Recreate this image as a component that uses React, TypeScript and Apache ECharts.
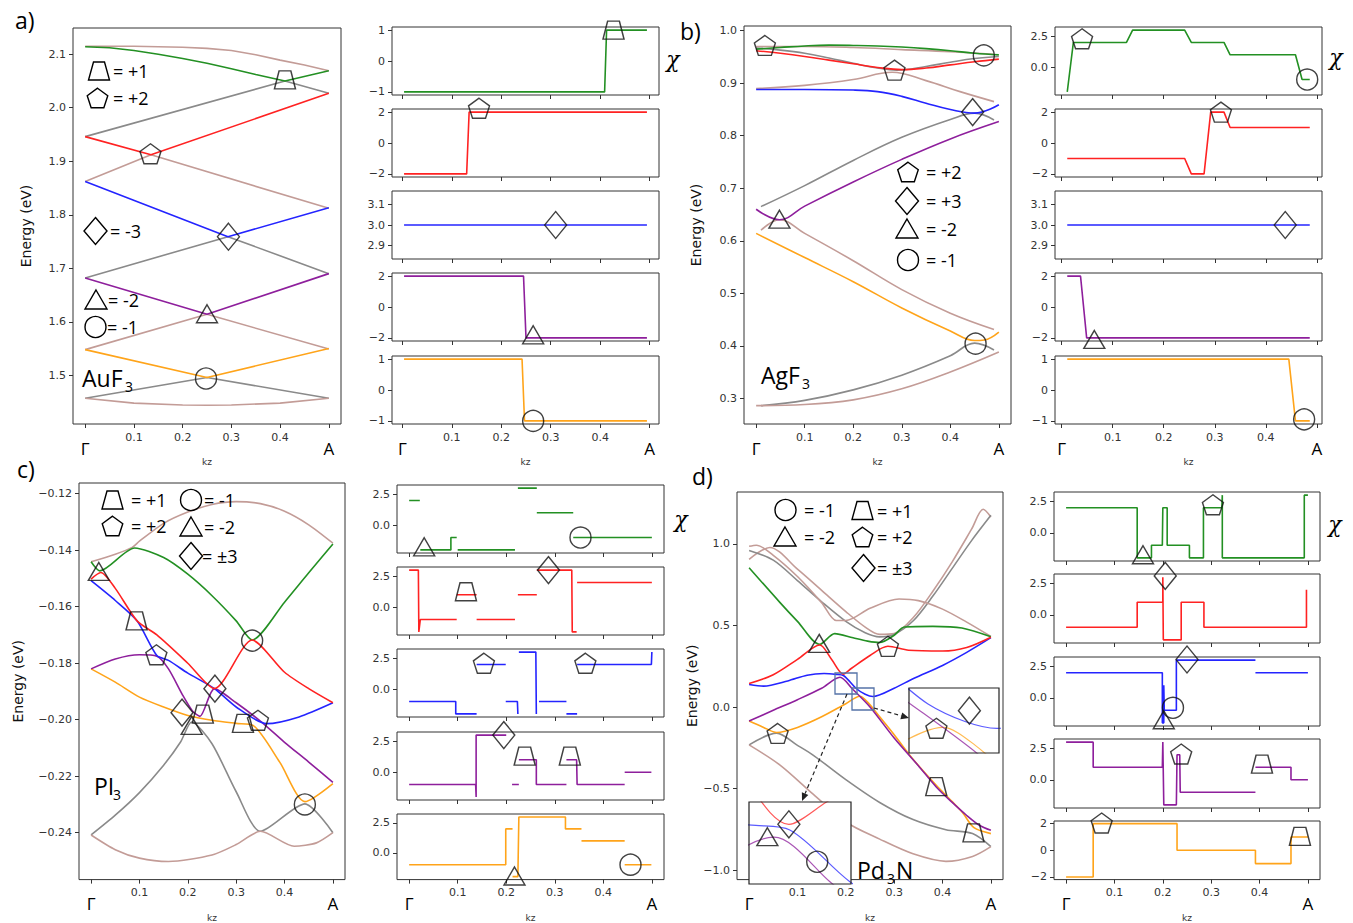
import React, { useEffect, useRef } from 'react';
import * as echarts from 'echarts';

// ================= DATA =================
const KZ_TICKS = [0, 0.1, 0.2, 0.3, 0.4, 0.5];

// ---- Panel a : AuF3 bands [kz, E(eV)]
const A_Y_TICKS = [1.5, 1.6, 1.7, 1.8, 1.9, 2.0, 2.1];
const A_BROWN1 = [[0, 2.115], [0.1, 2.115], [0.2, 2.113], [0.25, 2.111], [0.3, 2.107], [0.35, 2.099], [0.4, 2.089], [0.45, 2.08], [0.5, 2.069]];
const A_GREEN = [[0, 2.114], [0.05, 2.112], [0.1, 2.107], [0.15, 2.1], [0.2, 2.092], [0.25, 2.083], [0.3, 2.073], [0.35, 2.062], [0.41, 2.05], [0.5, 2.069]];
const A_GRAY1 = [[0, 1.946], [0.41, 2.05], [0.5, 2.027]];
const A_RED = [[0, 1.946], [0.135, 1.912], [0.5, 2.027]];
const A_BROWN2 = [[0, 1.862], [0.135, 1.912], [0.5, 1.812]];
const A_BLUE = [[0, 1.862], [0.293, 1.759], [0.5, 1.813]];
const A_GRAY2 = [[0, 1.682], [0.293, 1.759], [0.5, 1.69]];
const A_PURPLE = [[0, 1.682], [0.25, 1.614], [0.5, 1.69]];
const A_BROWN3 = [[0, 1.548], [0.25, 1.614], [0.5, 1.549]];
const A_ORANGE = [[0, 1.548], [0.25, 1.496], [0.5, 1.55]];
const A_GRAY3 = [[0, 1.457], [0.25, 1.496], [0.5, 1.457]];
const A_BROWN4 = [[0, 1.457], [0.1, 1.448], [0.2, 1.4445], [0.25, 1.444], [0.3, 1.4445], [0.4, 1.448], [0.5, 1.457]];
const A_MARKS = [[0.41, 2.052, 'trap'], [0.134, 1.914, 'pent'], [0.294, 1.759, 'diam'], [0.25, 1.615, 'tri'], [0.248, 1.494, 'circ']];
// chirality a
const A_CHI_GREEN = [[0.0034, -1], [0.409, -1], [0.413, 1], [0.4946, 1]];
const A_CHI_RED = [[0.0034, -2], [0.13, -2], [0.135, 2], [0.4946, 2]];
const A_CHI_BLUE = [[0.0034, 3], [0.4946, 3]];
const A_CHI_PURPLE = [[0.0034, 2], [0.245, 2], [0.25, -2], [0.4946, -2]];
const A_CHI_ORANGE = [[0.0034, 1], [0.242, 1], [0.247, -1], [0.4946, -1]];
const A_CHI_GREEN_M = [[0.427, 1.0, 'trap']];
const A_CHI_RED_M = [[0.155, 2.25, 'pent']];
const A_CHI_BLUE_M = [[0.31, 3.0, 'diam']];
const A_CHI_PURPLE_M = [[0.2645, -1.8, 'tri']];
const A_CHI_ORANGE_M = [[0.2645, -1.0, 'circ']];

// ---- Panel b : AgF3
const B_Y_TICKS = [0.3, 0.4, 0.5, 0.6, 0.7, 0.8, 0.9, 1.0];
const B_BROWN1 = [[0, 0.97], [0.1, 0.97], [0.2, 0.968], [0.3, 0.964], [0.4, 0.96], [0.49, 0.955]];
const B_GRAY1 = [[0, 0.967], [0.05, 0.963], [0.1, 0.957], [0.15, 0.948], [0.2, 0.938], [0.25, 0.929], [0.29, 0.925], [0.35, 0.932], [0.4, 0.94], [0.45, 0.947], [0.5, 0.951]];
const B_BROWN2 = [[0, 0.89], [0.1, 0.896], [0.2, 0.907], [0.28, 0.921], [0.35, 0.905], [0.42, 0.884], [0.49, 0.865]];
const B_GRAY2 = [[0.01, 0.665], [0.1, 0.705], [0.2, 0.753], [0.3, 0.797], [0.4, 0.831], [0.45, 0.843], [0.49, 0.83]];
const B_BROWN3 = [[0.01, 0.62], [0.048, 0.64], [0.1, 0.614], [0.2, 0.562], [0.3, 0.507], [0.4, 0.462], [0.49, 0.431]];
const B_GRAY3 = [[0.01, 0.286], [0.1, 0.296], [0.2, 0.316], [0.3, 0.344], [0.4, 0.381], [0.45, 0.405], [0.49, 0.392]];
const B_BROWN4 = [[0, 0.286], [0.1, 0.288], [0.2, 0.297], [0.3, 0.318], [0.4, 0.35], [0.5, 0.388]];
const B_GREEN = [[0, 0.965], [0.05, 0.968], [0.1, 0.971], [0.15, 0.9725], [0.2, 0.972], [0.25, 0.971], [0.3, 0.969], [0.35, 0.966], [0.4, 0.962], [0.45, 0.957], [0.5, 0.954]];
const B_RED = [[0, 0.962], [0.05, 0.957], [0.1, 0.951], [0.15, 0.944], [0.2, 0.937], [0.25, 0.93], [0.3, 0.926], [0.35, 0.929], [0.4, 0.935], [0.45, 0.941], [0.5, 0.946]];
const B_BLUE = [[0, 0.888], [0.1, 0.888], [0.2, 0.887], [0.25, 0.884], [0.3, 0.875], [0.35, 0.862], [0.4, 0.85], [0.45, 0.843], [0.5, 0.859]];
const B_PURPLE = [[0, 0.66], [0.048, 0.64], [0.1, 0.666], [0.2, 0.712], [0.3, 0.755], [0.4, 0.794], [0.5, 0.827]];
const B_ORANGE = [[0, 0.614], [0.1, 0.568], [0.2, 0.522], [0.3, 0.472], [0.4, 0.428], [0.45, 0.41], [0.47, 0.411], [0.5, 0.426]];
const B_MARKS = [[0.018, 0.972, 'pent'], [0.285, 0.925, 'pent'], [0.469, 0.953, 'circ'], [0.446, 0.845, 'diam'], [0.048, 0.641, 'tri'], [0.452, 0.404, 'circ']];
const B_CHI_GREEN = [[0.011, -2], [0.023, 2], [0.127, 2], [0.139, 3], [0.241, 3], [0.254, 2], [0.318, 2], [0.33, 1], [0.458, 1], [0.471, -1], [0.486, -1]];
const B_CHI_RED = [[0.011, -1], [0.241, -1], [0.254, -2], [0.279, -2], [0.292, 2], [0.318, 2], [0.33, 1], [0.486, 1]];
const B_CHI_BLUE = [[0.011, 3], [0.486, 3]];
const B_CHI_PURPLE = [[0.011, 2], [0.037, 2], [0.049, -2], [0.486, -2]];
const B_CHI_ORANGE = [[0.011, 1], [0.445, 1], [0.458, -1], [0.486, -1]];
const B_CHI_GREEN_M = [[0.04, 2.3, 'pent'], [0.481, -1.0, 'circ']];
const B_CHI_RED_M = [[0.312, 2.0, 'pent']];
const B_CHI_BLUE_M = [[0.438, 3.0, 'diam']];
const B_CHI_PURPLE_M = [[0.064, -2.1, 'tri']];
const B_CHI_ORANGE_M = [[0.475, -0.95, 'circ']];

// ---- Panel c : PI3
const C_Y_TICKS = [-0.24, -0.22, -0.2, -0.18, -0.16, -0.14, -0.12];
const C_BROWN1 = [[0, -0.1441], [0.05, -0.1414], [0.085, -0.139], [0.1, -0.1368], [0.15, -0.1305], [0.2, -0.1265], [0.25, -0.1238], [0.3, -0.1228], [0.35, -0.1235], [0.4, -0.1262], [0.45, -0.131], [0.5, -0.1375]];
const C_GRAY = [[0, -0.2408], [0.05, -0.2338], [0.1, -0.2258], [0.15, -0.2161], [0.185, -0.2079], [0.208, -0.2008], [0.25, -0.2085], [0.3, -0.2255], [0.35, -0.2395], [0.442, -0.2298], [0.5, -0.24]];
const C_BROWN2 = [[0, -0.2408], [0.05, -0.246], [0.1, -0.249], [0.16, -0.2502], [0.25, -0.2479], [0.3, -0.2442], [0.35, -0.2395], [0.42, -0.2448], [0.466, -0.2436], [0.5, -0.24]];
const C_GREEN = [[0, -0.1441], [0.018, -0.1473], [0.09, -0.1392], [0.15, -0.1426], [0.2, -0.1485], [0.25, -0.1561], [0.3, -0.165], [0.333, -0.1718], [0.4, -0.1584], [0.45, -0.148], [0.5, -0.1378]];
const C_RED = [[0, -0.1502], [0.02, -0.1479], [0.05, -0.1535], [0.095, -0.165], [0.136, -0.17], [0.2, -0.18], [0.255, -0.189], [0.333, -0.1718], [0.4, -0.1832], [0.45, -0.189], [0.5, -0.194]];
const C_BLUE = [[0, -0.1508], [0.05, -0.1578], [0.095, -0.165], [0.136, -0.1773], [0.16, -0.179], [0.2, -0.1835], [0.255, -0.189], [0.3, -0.1955], [0.363, -0.2014], [0.43, -0.199], [0.5, -0.194]];
const C_PURPLE = [[0, -0.182], [0.05, -0.1785], [0.1, -0.177], [0.136, -0.1775], [0.16, -0.182], [0.19, -0.1915], [0.21, -0.197], [0.225, -0.1988], [0.255, -0.189], [0.3, -0.194], [0.35, -0.2005], [0.4, -0.208], [0.45, -0.215], [0.5, -0.2222]];
const C_ORANGE = [[0, -0.182], [0.05, -0.1867], [0.1, -0.192], [0.15, -0.1955], [0.2, -0.1985], [0.25, -0.2002], [0.3, -0.2013], [0.335, -0.202], [0.39, -0.215], [0.442, -0.229], [0.5, -0.2226]];
const C_MARKS = [[0.016, -0.1475, 'tri'], [0.094, -0.165, 'trap'], [0.135, -0.177, 'pent'], [0.256, -0.189, 'diam'], [0.188, -0.1975, 'diam'], [0.231, -0.198, 'trap'], [0.208, -0.202, 'tri'], [0.314, -0.2013, 'trap'], [0.345, -0.2002, 'pent'], [0.333, -0.172, 'circ'], [0.442, -0.23, 'circ']];
const C_CHI_GREEN = [[0, 2], [0.022, 2], null, [0.023, -2], [0.086, -2], [0.086, -1], [0.098, -1], null, [0.1, -2], [0.218, -2], null, [0.224, 3], [0.263, 3], null, [0.263, 1], [0.338, 1], null, [0.338, -1], [0.5, -1]];
const C_CHI_RED = [[0, 3], [0.019, 3], [0.02, -2], [0.023, -1], [0.098, -1], null, [0.098, 1], [0.139, 1], null, [0.139, -1], [0.218, -1], null, [0.224, 1], [0.263, 1], null, [0.263, 3], [0.335, 3], [0.336, -2], [0.345, -2], null, [0.346, 2], [0.5, 2]];
const C_CHI_BLUE = [[0, -1], [0.096, -1], [0.096, -2], [0.139, -2], null, [0.139, 2], [0.199, 2], null, [0.199, -1], [0.223, -1], [0.224, -2], null, [0.226, 3], [0.261, 3], [0.262, -2], null, [0.2675, -1], [0.324, -1], null, [0.324, -2], [0.346, -2], null, [0.346, 2], [0.499, 2], [0.5, 3]];
const C_CHI_PURPLE = [[0, -1], [0.137, -1], [0.138, -2], [0.138, 3], [0.2, 3], null, [0.212, -1], [0.226, -1], null, [0.226, 1], [0.262, 1], [0.262, -1], [0.324, -1], null, [0.324, 1], [0.345, 1], [0.346, -1], [0.444, -1], null, [0.444, 0], [0.499, 0]];
const C_CHI_ORANGE = [[0, -1], [0.199, -1], [0.199, 2], [0.213, 2], null, [0.213, -2], [0.224, -2], [0.226, 3], [0.322, 3], [0.322, 2], [0.355, 2], null, [0.355, 1], [0.444, 1], null, [0.444, -1], [0.499, -1]];
const C_CHI_GREEN_M = [[0.031, -1.75, 'tri'], [0.353, -1.0, 'circ']];
const C_CHI_RED_M = [[0.117, 1.25, 'trap'], [0.287, 3.0, 'diam']];
const C_CHI_BLUE_M = [[0.154, 2.1, 'pent'], [0.363, 2.1, 'pent']];
const C_CHI_PURPLE_M = [[0.195, 3.0, 'diam'], [0.238, 1.3, 'trap'], [0.331, 1.3, 'trap']];
const C_CHI_ORANGE_M = [[0.217, -1.95, 'tri'], [0.456, -1.0, 'circ']];

// ---- Panel d : Pd3N
const D_Y_TICKS = [-1.0, -0.5, 0.0, 0.5, 1.0];
const D_BROWN1 = [[0, 0.905], [0.043, 0.978], [0.1, 0.845], [0.15, 0.715], [0.2, 0.585], [0.24, 0.49], [0.27, 0.445], [0.3, 0.45], [0.34, 0.55], [0.38, 0.71], [0.42, 0.89], [0.46, 1.09], [0.484, 1.212], [0.5, 1.165]];
const D_GRAY1 = [[0, 0.96], [0.05, 0.9], [0.1, 0.775], [0.15, 0.645], [0.2, 0.525], [0.24, 0.455], [0.27, 0.43], [0.3, 0.445], [0.34, 0.53], [0.38, 0.68], [0.42, 0.85], [0.46, 1.02], [0.5, 1.175]];
const D_BROWN2 = [[0, 0.985], [0.015, 0.992], [0.05, 0.93], [0.1, 0.8], [0.15, 0.64], [0.18, 0.53], [0.2, 0.53], [0.25, 0.605], [0.31, 0.662], [0.35, 0.652], [0.4, 0.6], [0.45, 0.52], [0.5, 0.432]];
const D_GRAY2 = [[0, -0.232], [0.057, -0.16], [0.1, -0.235], [0.133, -0.296], [0.2, -0.445], [0.27, -0.585], [0.339, -0.69], [0.407, -0.752], [0.462, -0.776], [0.5, -0.856]];
const D_BROWN3 = [[0, -0.232], [0.064, -0.356], [0.133, -0.536], [0.2, -0.705], [0.27, -0.81], [0.339, -0.9], [0.407, -0.946], [0.462, -0.916], [0.5, -0.856]];
const D_GREEN = [[0, 0.854], [0.064, 0.64], [0.1, 0.525], [0.146, 0.384], [0.177, 0.45], [0.215, 0.424], [0.245, 0.404], [0.27, 0.395], [0.3, 0.44], [0.321, 0.49], [0.38, 0.494], [0.44, 0.484], [0.5, 0.43]];
const D_RED = [[0, 0.144], [0.05, 0.198], [0.1, 0.292], [0.146, 0.38], [0.17, 0.295], [0.1946, 0.2017], [0.2112, 0.236], [0.25, 0.316], [0.287, 0.372], [0.33, 0.348], [0.4, 0.343], [0.45, 0.365], [0.5, 0.428]];
const D_BLUE = [[0, 0.138], [0.03, 0.128], [0.08, 0.16], [0.12, 0.195], [0.155, 0.205], [0.18, 0.2], [0.195, 0.193], [0.2215, 0.1135], [0.24, 0.078], [0.256, 0.064], [0.3, 0.115], [0.34, 0.175], [0.4, 0.255], [0.45, 0.335], [0.5, 0.425]];
const D_PURPLE = [[0, -0.086], [0.05, -0.02], [0.1, 0.045], [0.15, 0.115], [0.188, 0.182], [0.2127, 0.1135], [0.25, 0.0], [0.3, -0.19], [0.35, -0.36], [0.387, -0.49], [0.42, -0.585], [0.45, -0.665], [0.476, -0.725], [0.5, -0.756]];
const D_ORANGE = [[0, -0.086], [0.03, -0.125], [0.057, -0.156], [0.1, -0.125], [0.15, -0.06], [0.2, 0.02], [0.229, 0.066], [0.245, 0.03], [0.27, -0.06], [0.3, -0.17], [0.339, -0.32], [0.387, -0.48], [0.42, -0.58], [0.442, -0.65], [0.465, -0.74], [0.5, -0.776]];
const D_MARKS = [[0.145, 0.39, 'tri'], [0.287, 0.372, 'pent'], [0.059, -0.162, 'pent'], [0.387, -0.488, 'trap'], [0.464, -0.772, 'trap']];
const D_INSET1_MARKS = [[0.1851, 0.1827, 'tri'], [0.1946, 0.2017, 'diam'], [0.2071, 0.1442, 'circ']];
const D_INSET2_MARKS = [[0.2257, 0.0642, 'pent'], [0.2422, 0.1, 'diam']];
const D_CHI_GREEN = [[0, 2], [0.147, 2], [0.147, -2], [0.1765, -2], [0.1765, -1], [0.199, -1], [0.2, 2], [0.209, 2], [0.209, -1], [0.255, -1], [0.255, -2], [0.284, -2], [0.284, 2], [0.322, 2], [0.323, 3], [0.323, -2], [0.4925, -2], [0.4925, 3], [0.5, 3]];
const D_CHI_RED = [[0, -1], [0.147, -1], [0.147, 1], [0.2, 1], [0.2, 3], [0.201, -2], [0.238, -2], [0.238, 1], [0.285, 1], [0.285, -1], [0.497, -1], [0.497, 2]];
const D_CHI_BLUE = [[0, 2], [0.199, 2], [0.199, -2], [0.202, -2], [0.202, 1], [0.203, -1], [0.228, -1], [0.228, 3], [0.3915, 3], null, [0.3915, 2], [0.5, 2]];
const D_CHI_PURPLE = [[0, 3], [0.056, 3], [0.056, 1], [0.199, 1], [0.2, 3], [0.202, -2], [0.228, -2], [0.2294, 2], [0.235, 2], [0.236, -1], [0.3915, -1], null, [0.3915, 1], [0.465, 1], [0.465, 0], [0.5, 0]];
const D_CHI_ORANGE = [[0, -2], [0.056, -2], [0.056, 2], [0.2294, 2], [0.2294, 0], [0.3915, 0], [0.3915, -1], [0.465, -1], [0.465, 1], [0.5, 1]];
const D_CHI_GREEN_M = [[0.3036, 2.23, 'pent'], [0.159, -1.75, 'tri']];
const D_CHI_RED_M = [[0.205, 3.1, 'diam']];
const D_CHI_BLUE_M = [[0.25, 3.05, 'diam'], [0.221, -0.8, 'circ'], [0.202, -1.75, 'tri']];
const D_CHI_PURPLE_M = [[0.238, 2.05, 'pent'], [0.405, 1.24, 'trap']];
const D_CHI_ORANGE_M = [[0.0735, 2.05, 'pent'], [0.4835, 1.04, 'trap']];

// ================= STYLE / LAYOUT =================
const COL: Record<string, string> = {
  green: '#239023', red: '#ff2222', blue: '#2424ff', purple: '#8e1f9c',
  orange: '#ffa41a', gray: '#8a8a8a', brown: '#c39c97',
};
const SANS = 'DejaVu Sans';
const TXT = 'Open Sans';
const minus = (s: string) => s.replace(/-/g, '\u2212');

const SYM: Record<string, { symbol: string; size: number[] }> = {
  trap: { symbol: 'path://M22,0L78,0L100,100L0,100Z', size: [21, 18] },
  pent: { symbol: 'path://M50,0L97.55,34.55L79.39,90.45L20.61,90.45L2.45,34.55Z', size: [21, 20] },
  diam: { symbol: 'diamond', size: [22, 27] },
  tri: { symbol: 'triangle', size: [21, 18] },
  circ: { symbol: 'circle', size: [21, 21] },
};

const CHI3 = [-2.25, 3.25, [0, 2.5], 1];
const R2 = [-2.2, 2.2, [-2, 0, 2], 0];
const R1 = [-1.1, 1.1, [-1, 0, 1], 0];
const R3 = [2.835, 3.165, [2.9, 3.0, 3.1], 1];

const PANELS: any[] = [
  {
    main: { left: 73, top: 28, width: 268, height: 396, yMin: 1.409, yMax: 2.149, yTicks: A_Y_TICKS, yDec: 1, nameGap: 40, smooth: false },
    bands: [[A_BROWN1, 'brown'], [A_GRAY1, 'gray'], [A_BROWN2, 'brown'], [A_GRAY2, 'gray'], [A_BROWN3, 'brown'], [A_GRAY3, 'gray'], [A_BROWN4, 'brown'],
      [A_GREEN, 'green'], [A_RED, 'red'], [A_BLUE, 'blue'], [A_PURPLE, 'purple'], [A_ORANGE, 'orange']],
    marks: A_MARKS,
    small: { left: 392, width: 267, height: 68, tops: [27, 109, 191, 273, 356], xMin: -0.021, xMax: 0.519 },
    chi: [[A_CHI_GREEN, 'green', R1, A_CHI_GREEN_M], [A_CHI_RED, 'red', R2, A_CHI_RED_M], [A_CHI_BLUE, 'blue', R3, A_CHI_BLUE_M],
      [A_CHI_PURPLE, 'purple', R2, A_CHI_PURPLE_M], [A_CHI_ORANGE, 'orange', R1, A_CHI_ORANGE_M]],
  },
  {
    main: { left: 744, top: 26, width: 267, height: 398, yMin: 0.251, yMax: 1.009, yTicks: B_Y_TICKS, yDec: 1, nameGap: 41, smooth: 0.4 },
    bands: [[B_BROWN1, 'brown'], [B_GRAY1, 'gray'], [B_BROWN2, 'brown'], [B_GRAY2, 'gray'], [B_BROWN3, 'brown'], [B_GRAY3, 'gray'], [B_BROWN4, 'brown'],
      [B_GREEN, 'green'], [B_RED, 'red'], [B_BLUE, 'blue'], [B_PURPLE, 'purple'], [B_ORANGE, 'orange']],
    marks: B_MARKS,
    small: { left: 1055, width: 267, height: 68, tops: [27, 109, 191, 273, 356], xMin: -0.013, xMax: 0.51 },
    chi: [[B_CHI_GREEN, 'green', CHI3, B_CHI_GREEN_M], [B_CHI_RED, 'red', R2, B_CHI_RED_M], [B_CHI_BLUE, 'blue', R3, B_CHI_BLUE_M],
      [B_CHI_PURPLE, 'purple', R2, B_CHI_PURPLE_M], [B_CHI_ORANGE, 'orange', R1, B_CHI_ORANGE_M]],
  },
  {
    main: { left: 79, top: 483, width: 266, height: 397, yMin: -0.2566, yMax: -0.1162, yTicks: C_Y_TICKS, yDec: 2, nameGap: 54, smooth: 0.25 },
    bands: [[C_BROWN1, 'brown'], [C_GRAY, 'gray'], [C_BROWN2, 'brown'],
      [C_GREEN, 'green'], [C_ORANGE, 'orange'], [C_PURPLE, 'purple'], [C_BLUE, 'blue'], [C_RED, 'red']],
    marks: C_MARKS,
    small: { left: 397, width: 267, height: 68, tops: [485, 567, 649, 732, 814], xMin: -0.025, xMax: 0.525 },
    chi: [[C_CHI_GREEN, 'green', CHI3, C_CHI_GREEN_M], [C_CHI_RED, 'red', CHI3, C_CHI_RED_M], [C_CHI_BLUE, 'blue', CHI3, C_CHI_BLUE_M],
      [C_CHI_PURPLE, 'purple', CHI3, C_CHI_PURPLE_M], [C_CHI_ORANGE, 'orange', CHI3, C_CHI_ORANGE_M]],
  },
  {
    main: { left: 737, top: 492, width: 266, height: 397, yMin: -1.058, yMax: 1.318, yTicks: D_Y_TICKS, yDec: 1, nameGap: 34, smooth: 0.3 },
    bands: [[D_BROWN1, 'brown'], [D_GRAY1, 'gray'], [D_BROWN2, 'brown'], [D_GRAY2, 'gray'], [D_BROWN3, 'brown'],
      [D_GREEN, 'green'], [D_ORANGE, 'orange'], [D_PURPLE, 'purple'], [D_BLUE, 'blue'], [D_RED, 'red']],
    marks: D_MARKS,
    small: { left: 1054, width: 266, height: 69, tops: [492, 574, 657, 739, 821], xMin: -0.025, xMax: 0.525 },
    chi: [[D_CHI_GREEN, 'green', CHI3, D_CHI_GREEN_M], [D_CHI_RED, 'red', CHI3, D_CHI_RED_M], [D_CHI_BLUE, 'blue', CHI3, D_CHI_BLUE_M],
      [D_CHI_PURPLE, 'purple', CHI3, D_CHI_PURPLE_M], [D_CHI_ORANGE, 'orange', R2, D_CHI_ORANGE_M]],
    insets: [
      { rect: { left: 749, top: 802, width: 102, height: 82 }, x: [0.177, 0.222], y: [0.11, 0.236], marks: D_INSET1_MARKS },
      { rect: { left: 909, top: 688, width: 90, height: 65 }, x: [0.212, 0.257], y: [0.014, 0.146], marks: D_INSET2_MARKS },
    ],
  },
];

// legends (pixel layout)
const LEGENDS: any[] = [
  ['trap', 99, 71, '= +1', 113], ['pent', 97.5, 98, '= +2', 113], ['diam', 95.5, 231, '= -3', 110], ['tri', 96, 300, '= -2', 108], ['circ', 95.5, 327, '= -1', 107],
  ['pent', 908, 172, '= +2', 926], ['diam', 907, 201, '= +3', 926], ['tri', 907, 229, '= -2', 926], ['circ', 908, 260, '= -1', 926],
  ['trap', 112.5, 500, '= +1', 131], ['circ', 191, 500, '= -1', 204], ['pent', 112.5, 526, '= +2', 131], ['tri', 191, 527, '= -2', 204], ['diam', 191, 556, '= \u00b13', 202],
  ['circ', 785.5, 510, '= -1', 804], ['tri', 785, 537, '= -2', 804], ['trap', 862.5, 510.5, '= +1', 877], ['pent', 862.5, 537, '= +2', 877], ['diam', 863.5, 568, '= \u00b13', 877],
];

function kzFmt(v: number) {
  if (Math.abs(v) < 1e-9) return '{g|\u0393}';
  if (Math.abs(v - 0.5) < 1e-9) return '{g|A}';
  return '{n|' + v.toFixed(1) + '}';
}

function buildOption() {
  const grids: any[] = [];
  const xAxes: any[] = [];
  const yAxes: any[] = [];
  const series: any[] = [];
  const graphic: any[] = [];

  const addGrid = (r: any, xr: number[], yr: number[], o: any) => {
    const i = grids.length;
    grids.push({ left: r.left, top: r.top, width: r.width, height: r.height, show: !o.hidden, borderColor: '#333', borderWidth: 1, containLabel: false });
    xAxes.push({
      gridIndex: i, type: 'value', min: xr[0], max: xr[1], show: !o.hidden, position: 'bottom',
      axisLine: { show: false, onZero: false }, splitLine: { show: false },
      axisTick: { show: true, inside: false, customValues: KZ_TICKS, length: 4, lineStyle: { color: '#333' } },
      axisLabel: {
        show: !!o.xLabels, inside: false, customValues: KZ_TICKS, formatter: kzFmt, margin: 7,
        rich: {
          g: { fontSize: 17, fontFamily: TXT, color: '#000', lineHeight: 34 },
          n: { fontSize: 11, fontFamily: SANS, color: '#333', lineHeight: 12 },
        },
      },
      name: o.xLabels ? 'kz' : '', nameLocation: 'middle', nameGap: 25,
      nameTextStyle: { fontSize: 9, fontFamily: SANS, color: '#333' },
    });
    yAxes.push({
      gridIndex: i, type: 'value', min: yr[0], max: yr[1], show: !o.hidden, position: 'left',
      axisLine: { show: false, onZero: false }, splitLine: { show: false },
      axisTick: { show: true, inside: false, customValues: o.yTicks || [], length: 4, lineStyle: { color: '#333' } },
      axisLabel: { inside: false, customValues: o.yTicks || [], formatter: (v: number) => minus(v.toFixed(o.yDec || 0)), fontSize: 11, fontFamily: SANS, color: '#333', margin: 7 },
      name: o.yName || '', nameLocation: 'middle', nameGap: o.nameGap || 40,
      nameTextStyle: { fontSize: 14, fontFamily: SANS, color: '#111' },
    });
    return i;
  };
  const addLine = (gi: number, data: any[], color: string, smooth: any, width = 1.6, z = 2, opacity = 1) => {
    series.push({
      type: 'line', xAxisIndex: gi, yAxisIndex: gi, silent: true, z,
      data: data.map((p: any) => (p ? p : ['-', '-'])),
      showSymbol: false, symbol: 'none', smooth, connectNulls: false,
      lineStyle: { color, width, opacity }, itemStyle: { color },
    });
  };
  const addMarks = (gi: number, marks: any[], z = 6) => {
    series.push({
      type: 'scatter', xAxisIndex: gi, yAxisIndex: gi, clip: false, silent: true, z,
      data: marks.map((m: any) => ({ value: [m[0], m[1]], symbol: SYM[m[2]].symbol, symbolSize: SYM[m[2]].size })),
      itemStyle: { color: 'rgba(0,0,0,0)', borderColor: '#111', borderWidth: 1.4 },
    });
  };

  PANELS.forEach((P) => {
    const m = P.main;
    const gi = addGrid(m, [-0.025, 0.525], [m.yMin, m.yMax], { xLabels: true, yTicks: m.yTicks, yDec: m.yDec, yName: 'Energy (eV)', nameGap: m.nameGap });
    P.bands.forEach((b: any) => addLine(gi, b[0], COL[b[1]], m.smooth));
    addMarks(gi, P.marks);
    const s = P.small;
    P.chi.forEach((c: any, k: number) => {
      const rg = c[2];
      const sg = addGrid({ left: s.left, top: s.tops[k], width: s.width, height: s.height }, [s.xMin, s.xMax], [rg[0], rg[1]],
        { xLabels: k === 4, yTicks: rg[2], yDec: rg[3] });
      addLine(sg, c[0], COL[c[1]], false, 1.6);
      addMarks(sg, c[3]);
    });
    if (P.insets) {
      P.insets.forEach((ins: any) => {
        const ig = addGrid(ins.rect, ins.x, ins.y, { hidden: true });
        P.bands.forEach((b: any) => addLine(ig, b[0], COL[b[1]], m.smooth, 1.2, 4, 0.75));
        addMarks(ig, ins.marks, 8);
        graphic.push({ type: 'rect', z: 3, shape: { x: ins.rect.left, y: ins.rect.top, width: ins.rect.width, height: ins.rect.height }, style: { fill: '#fff', stroke: 'none' } });
        graphic.push({ type: 'rect', z: 7, shape: { x: ins.rect.left, y: ins.rect.top, width: ins.rect.width, height: ins.rect.height }, style: { fill: 'none', stroke: '#222', lineWidth: 1.2 } });
      });
    }
  });

  // legend symbols
  const shape = (k: string, cx: number, cy: number) => {
    const st = { fill: 'none', stroke: '#000', lineWidth: 1.4 };
    if (k === 'circ') return { type: 'circle', z: 10, shape: { cx, cy, r: 10.5 }, style: st };
    let pts: number[][] = [];
    if (k === 'trap') pts = [[cx - 5.5, cy - 9], [cx + 5.5, cy - 9], [cx + 10.5, cy + 9], [cx - 10.5, cy + 9]];
    if (k === 'diam') pts = [[cx, cy - 13.5], [cx + 11.5, cy], [cx, cy + 13.5], [cx - 11.5, cy]];
    if (k === 'tri') pts = [[cx, cy - 10], [cx + 11, cy + 9], [cx - 11, cy + 9]];
    if (k === 'pent') {
      for (let j = 0; j < 5; j++) {
        const a = -Math.PI / 2 + (j * 2 * Math.PI) / 5;
        pts.push([cx + 10.8 * Math.cos(a), cy + 1 + 10.8 * Math.sin(a)]);
      }
    }
    return { type: 'polygon', z: 10, shape: { points: pts }, style: st };
  };
  const text = (t: string, x: number, y: number, size: number, extra: any = {}) => ({
    type: 'text', x, y, z: 10,
    style: { text: t, fontSize: size, fontFamily: TXT, fill: '#000', align: 'left', verticalAlign: 'middle', ...extra },
  });
  LEGENDS.forEach((L) => {
    graphic.push(shape(L[0], L[1], L[2]));
    graphic.push(text(L[3], L[4], L[2], 18));
  });
  // compound names
  graphic.push(text('AuF', 82, 378, 23), text('3', 125, 386, 14));
  graphic.push(text('AgF', 761, 375, 23), text('3', 802, 383, 14));
  graphic.push(text('PI', 94, 786, 23), text('3', 113, 794, 14));
  graphic.push(text('Pd', 857, 870, 23), text('3', 887, 878, 14), text('N', 896, 870, 23));
  // panel letters
  graphic.push(text('a)', 15, 20, 23), text('b)', 680, 31, 23), text('c)', 17, 469, 23), text('d)', 692, 476, 23));
  // chi labels
  const chi = (x: number, y: number) => ({ type: 'text', x, y, z: 10, style: { text: '\u03c7', fontSize: 22, fontFamily: 'DejaVu Serif', fontStyle: 'italic', fill: '#000', align: 'center', verticalAlign: 'middle' } });
  graphic.push(chi(673, 59), chi(1336, 57), chi(681, 519), chi(1335, 524));
  // zoom squares in d
  const sq = { fill: 'none', stroke: '#5573a8', lineWidth: 1.3 };
  graphic.push({ type: 'rect', z: 5, shape: { x: 835, y: 673, width: 22, height: 21 }, style: sq });
  graphic.push({ type: 'rect', z: 5, shape: { x: 852, y: 688, width: 22, height: 22 }, style: sq });
  // arrows
  const arrow = (x1: number, y1: number, x2: number, y2: number) => {
    const dx = x2 - x1, dy = y2 - y1, L = Math.hypot(dx, dy);
    const ux = dx / L, uy = dy / L;
    const bx = x2 - ux * 8, by = y2 - uy * 8;
    graphic.push({ type: 'line', z: 5, shape: { x1, y1, x2: bx, y2: by }, style: { stroke: '#222', lineWidth: 1.2, lineDash: [4, 3] } });
    graphic.push({ type: 'polygon', z: 5, shape: { points: [[x2, y2], [bx - uy * 3.5, by + ux * 3.5], [bx + uy * 3.5, by - ux * 3.5]] }, style: { fill: '#222' } });
  };
  arrow(847, 694, 802, 801);
  arrow(874, 708, 909, 718);

  return { animation: false, backgroundColor: '#fff', grid: grids, xAxis: xAxes, yAxis: yAxes, series, graphic };
}

export default function App() {
  const ref = useRef<HTMLDivElement>(null);
  useEffect(() => {
    if (!ref.current) return;
    const chart = echarts.init(ref.current, null, { renderer: 'svg' });
    chart.setOption(buildOption());
    return () => chart.dispose();
  }, []);
  return <div ref={ref} style={{ position: 'absolute', left: 0, top: 0, width: 1353, height: 923, background: '#fff' }} />;
}
